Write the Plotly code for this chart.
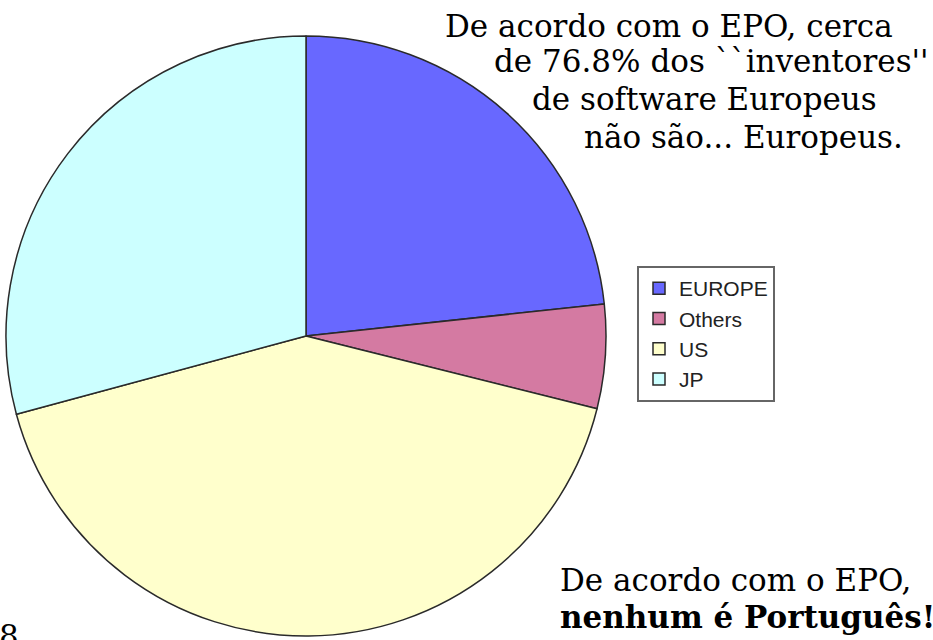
import plotly.graph_objects as go

W, H = 933, 640

labels = ["EUROPE", "Others", "US", "JP"]
values = [23.3, 5.6, 41.9, 29.2]
colors = ["#6868ff", "#d47aa2", "#ffffcc", "#ccffff"]

top_lines = [
    "De acordo com o EPO, cerca",
    "de 76.8% dos ``inventores''",
    "de software Europeus",
    "não são... Europeus.",
]
bottom_lines = ["De acordo com o EPO,", "<b>nenhum é Português!</b>"]
page_number = "8"


def px(x):
    return x / W


def py(y):
    return 1 - y / H


cx, cy, r = 306, 336, 300

fig = go.Figure(
    go.Pie(
        labels=labels,
        values=values,
        sort=False,
        direction="clockwise",
        rotation=0,
        textinfo="none",
        hoverinfo="label+percent",
        marker=dict(colors=colors, line=dict(color="#2a2a2a", width=1.5)),
        domain=dict(x=[px(cx - r), px(cx + r)], y=[py(cy + r), py(cy - r)]),
    )
)

serif = "DejaVu Serif"
fs = 31
top_x = [443, 492, 530, 582]
top_y = [26, 61, 99, 137]
annotations = []
for t, x, y in zip(top_lines, top_x, top_y):
    annotations.append(dict(text=t, x=px(x), y=py(y), xref="paper", yref="paper",
                            xanchor="left", yanchor="middle", showarrow=False,
                            font=dict(family=serif, size=fs, color="black")))
for t, y in zip(bottom_lines, [580, 617]):
    annotations.append(dict(text=t, x=px(558), y=py(y), xref="paper", yref="paper",
                            xanchor="left", yanchor="middle", showarrow=False,
                            font=dict(family=serif, size=fs, color="black")))
annotations.append(dict(text=page_number, x=px(-3), y=py(636), xref="paper", yref="paper",
                        xanchor="left", yanchor="middle", showarrow=False,
                        font=dict(family=serif, size=fs, color="black")))

fig.update_layout(
    width=W, height=H,
    margin=dict(l=0, r=0, t=0, b=0),
    paper_bgcolor="white",
    plot_bgcolor="white",
    showlegend=True,
    legend=dict(
        x=px(637), y=py(266), xanchor="left", yanchor="top",
        bgcolor="white", bordercolor="#666666", borderwidth=2,
        font=dict(family="Liberation Sans", size=21, color="#222222"),
    ),
    annotations=annotations,
)

fig.write_html(
    "out.html",
    config={"displayModeBar": False},
    post_script="document.body.style.margin='0';document.body.style.overflow='hidden';",
)
